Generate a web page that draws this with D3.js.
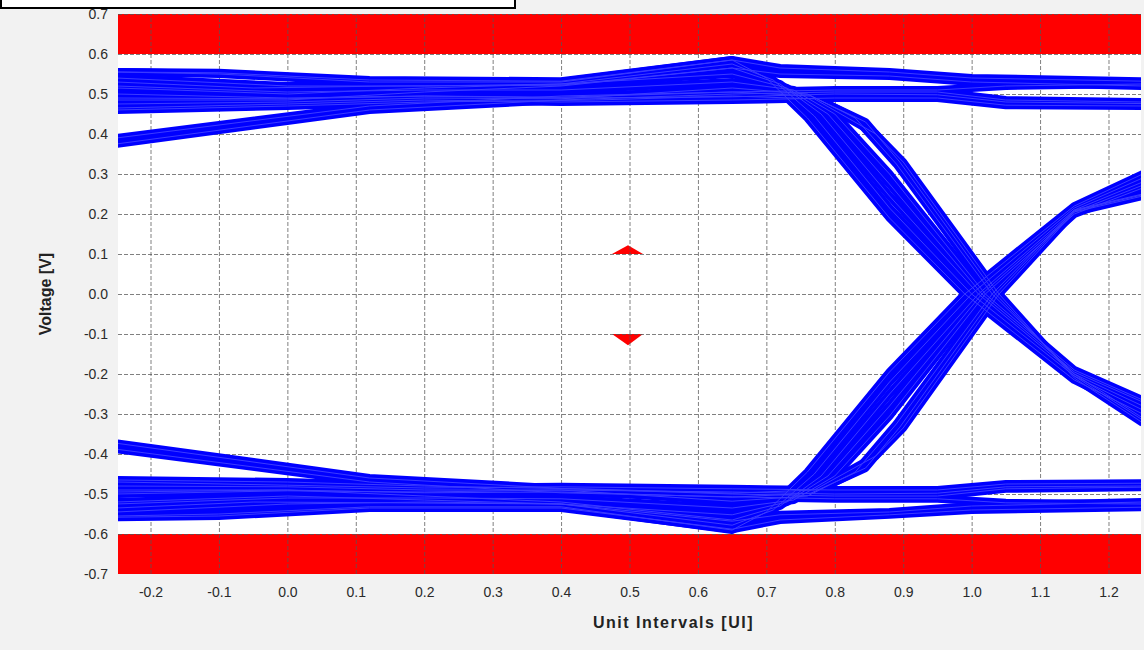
<!DOCTYPE html>
<html>
<head>
<meta charset="utf-8">
<script src="https://cdn.jsdelivr.net/npm/d3@7"></script>
<style>
  body { margin: 0; background: #f2f2f2; }
  svg { display: block; font-family: "Liberation Sans", Arial, sans-serif; }
</style>
</head>
<body>
<svg id="chart" width="1144" height="650"></svg>
<script>
/** Tick values for both axes */
var xTicks = [-0.2, -0.1, 0.0, 0.1, 0.2, 0.3, 0.4, 0.5, 0.6, 0.7, 0.8, 0.9, 1.0, 1.1, 1.2];
var yTicks = [-0.7, -0.6, -0.5, -0.4, -0.3, -0.2, -0.1, 0.0, 0.1, 0.2, 0.3, 0.4, 0.5, 0.6, 0.7];

/** Axis extents (UI and volts) */
var uiDomain = [-0.2475, 1.2475],
    voltDomain = [-0.7, 0.7];

/** Eye mask polygons, [UI, V] */
var maskTop = [[-0.2475, 0.6], [1.2475, 0.6], [1.2475, 0.7], [-0.2475, 0.7]];
var maskBottom = [[-0.2475, -0.6], [1.2475, -0.6], [1.2475, -0.7], [-0.2475, -0.7]];
var maskInnerTop = [[0.4744, 0.1], [0.4978, 0.122], [0.5197, 0.1]];
var maskInnerBottom = [[0.4744, -0.1], [0.4978, -0.128], [0.5197, -0.1]];

/** Traces that stay at the high level, [UI, V] */
var highTraces = [
    [[-0.25,0.555],[-0.1,0.553],[0.12,0.535],[0.4,0.532],[0.65,0.585],[0.72,0.565],[0.88,0.555],[1.0,0.54],[1.25,0.532]],
    [[-0.25,0.53],[-0.05,0.515],[0.15,0.52],[0.4,0.522],[0.65,0.565],[0.72,0.55],[0.88,0.545],[1.0,0.53],[1.25,0.52]],
    [[-0.25,0.50],[0.0,0.49],[0.2,0.495],[0.4,0.49],[0.65,0.493],[0.8,0.5],[0.95,0.498],[1.05,0.48],[1.25,0.476]],
    [[-0.25,0.465],[0.0,0.475],[0.2,0.485],[0.4,0.48],[0.65,0.485],[0.8,0.49],[0.95,0.49],[1.05,0.472],[1.25,0.47]],
    [[-0.25,0.39],[0.12,0.47],[0.4,0.495],[0.65,0.505],[0.8,0.51],[0.95,0.51],[1.05,0.52],[1.25,0.525]],
    [[-0.25,0.375],[0.12,0.46],[0.4,0.485],[0.65,0.5],[0.8,0.505],[0.95,0.505],[1.05,0.485],[1.25,0.48]]
];

/** Traces that stay at the low level */
var lowTraces = [
    [[-0.25,-0.558],[-0.1,-0.555],[0.12,-0.535],[0.4,-0.535],[0.65,-0.588],[0.72,-0.565],[0.88,-0.552],[1.0,-0.54],[1.25,-0.533]],
    [[-0.25,-0.535],[-0.05,-0.52],[0.15,-0.522],[0.4,-0.525],[0.65,-0.568],[0.72,-0.552],[0.88,-0.545],[1.0,-0.53],[1.25,-0.52]],
    [[-0.25,-0.50],[0.0,-0.492],[0.2,-0.495],[0.4,-0.49],[0.65,-0.495],[0.8,-0.5],[0.95,-0.498],[1.05,-0.482],[1.25,-0.48]],
    [[-0.25,-0.47],[0.0,-0.478],[0.2,-0.485],[0.4,-0.482],[0.65,-0.487],[0.8,-0.49],[0.95,-0.49],[1.05,-0.475],[1.25,-0.473]],
    [[-0.25,-0.388],[0.12,-0.47],[0.4,-0.497],[0.65,-0.507],[0.8,-0.512],[0.95,-0.512],[1.05,-0.522],[1.25,-0.525]],
    [[-0.25,-0.373],[0.12,-0.46],[0.4,-0.486],[0.65,-0.5],[0.8,-0.505],[0.95,-0.505],[1.05,-0.487],[1.25,-0.483]]
];

/** High to low transitions */
var fallingTraces = [
    [[-0.25,0.555],[-0.1,0.55],[0.12,0.53],[0.4,0.53],[0.65,0.585],[0.70,0.54],[0.76,0.44],[0.88,0.19],[0.99,0.0],[1.15,-0.215],[1.25,-0.30]],
    [[-0.25,0.515],[0.0,0.5],[0.2,0.515],[0.4,0.525],[0.65,0.575],[0.71,0.535],[0.77,0.445],[0.88,0.215],[1.0,0.0],[1.15,-0.205],[1.25,-0.29]],
    [[-0.25,0.485],[0.0,0.485],[0.2,0.505],[0.4,0.52],[0.65,0.565],[0.72,0.525],[0.78,0.45],[0.88,0.245],[1.01,0.0],[1.15,-0.2],[1.25,-0.28]],
    [[-0.25,0.54],[0.0,0.52],[0.2,0.52],[0.4,0.525],[0.65,0.55],[0.73,0.515],[0.79,0.45],[0.88,0.275],[1.015,0.0],[1.15,-0.195],[1.25,-0.27]],
    [[-0.25,0.52],[0.0,0.505],[0.2,0.51],[0.4,0.51],[0.65,0.53],[0.74,0.51],[0.80,0.45],[0.88,0.30],[1.02,0.0],[1.15,-0.19],[1.25,-0.265]],
    [[-0.25,0.475],[0.0,0.48],[0.2,0.49],[0.4,0.488],[0.65,0.515],[0.76,0.50],[0.83,0.44],[0.89,0.325],[1.03,0.0],[1.15,-0.2],[1.25,-0.31]],
    [[-0.25,0.49],[0.0,0.488],[0.2,0.495],[0.4,0.492],[0.65,0.505],[0.765,0.495],[0.845,0.43],[0.895,0.33],[1.035,0.0],[1.15,-0.205],[1.25,-0.315]],
    [[-0.25,0.46],[0.0,0.47],[0.2,0.48],[0.45,0.485],[0.65,0.495],[0.77,0.488],[0.86,0.40],[0.90,0.33],[1.04,0.0],[1.15,-0.21],[1.25,-0.322]]
];

/** Low to high transitions */
var risingTraces = [
    [[-0.25,-0.555],[-0.1,-0.55],[0.12,-0.532],[0.4,-0.532],[0.65,-0.59],[0.70,-0.545],[0.76,-0.445],[0.88,-0.195],[0.99,0.0],[1.15,0.22],[1.25,0.30]],
    [[-0.25,-0.52],[0.0,-0.505],[0.2,-0.515],[0.4,-0.525],[0.65,-0.578],[0.71,-0.54],[0.77,-0.45],[0.88,-0.22],[1.0,0.0],[1.15,0.215],[1.25,0.29]],
    [[-0.25,-0.49],[0.0,-0.49],[0.2,-0.505],[0.4,-0.52],[0.65,-0.565],[0.72,-0.53],[0.78,-0.455],[0.88,-0.25],[1.01,0.0],[1.15,0.21],[1.25,0.28]],
    [[-0.25,-0.545],[0.0,-0.525],[0.2,-0.52],[0.4,-0.525],[0.65,-0.552],[0.73,-0.52],[0.79,-0.455],[0.88,-0.28],[1.015,0.0],[1.15,0.205],[1.25,0.272]],
    [[-0.25,-0.525],[0.0,-0.51],[0.2,-0.51],[0.4,-0.512],[0.65,-0.535],[0.74,-0.515],[0.80,-0.455],[0.88,-0.305],[1.02,0.0],[1.15,0.2],[1.25,0.265]],
    [[-0.25,-0.48],[0.0,-0.482],[0.2,-0.49],[0.4,-0.49],[0.65,-0.518],[0.76,-0.505],[0.83,-0.445],[0.89,-0.325],[1.03,0.0],[1.15,0.21],[1.25,0.25]],
    [[-0.25,-0.495],[0.0,-0.49],[0.2,-0.497],[0.4,-0.495],[0.65,-0.508],[0.765,-0.498],[0.845,-0.435],[0.895,-0.333],[1.035,0.0],[1.15,0.208],[1.25,0.248]],
    [[-0.25,-0.465],[0.0,-0.47],[0.2,-0.48],[0.45,-0.488],[0.65,-0.498],[0.77,-0.49],[0.86,-0.405],[0.90,-0.335],[1.04,0.0],[1.15,0.205],[1.25,0.245]]
];

/** Plot area in pixels */
var plotLeft = 118, plotRight = 1141, plotTop = 14, plotBottom = 574;

var svg = d3.select('#chart');

// outer background
svg.append('rect')
    .attr('width', 1144).attr('height', 650)
    .attr('fill', '#f2f2f2');

// clipped box at top-left corner
svg.append('rect')
    .attr('x', 1).attr('y', -4)
    .attr('width', 514).attr('height', 12)
    .attr('fill', '#ffffff')
    .attr('stroke', '#000').attr('stroke-width', 2);

var x = d3.scaleLinear().domain(uiDomain).range([plotLeft, plotRight]);
var y = d3.scaleLinear().domain(voltDomain).range([plotBottom, plotTop]);

svg.append('defs').append('clipPath').attr('id', 'plotClip')
    .append('rect')
    .attr('x', plotLeft).attr('y', plotTop)
    .attr('width', plotRight - plotLeft).attr('height', plotBottom - plotTop);

// plot background
svg.append('rect')
    .attr('x', plotLeft).attr('y', plotTop)
    .attr('width', plotRight - plotLeft).attr('height', plotBottom - plotTop)
    .attr('fill', '#ffffff');

var plot = svg.append('g').attr('clip-path', 'url(#plotClip)');

// mask polygons
var polyLine = d3.line()
    .x(function(d) { return x(d[0]); })
    .y(function(d) { return y(d[1]); });

plot.selectAll('path.mask')
    .data([maskTop, maskBottom, maskInnerTop, maskInnerBottom])
    .enter()
    .append('path')
    .attr('class', 'mask')
    .attr('d', function(d) { return polyLine(d) + 'Z'; })
    .attr('fill', '#ff0000');

// grid
var gridX = plot.append('g')
    .attr('transform', 'translate(0,' + plotBottom + ')')
    .call(d3.axisBottom(x).tickValues(xTicks).tickSize(-(plotBottom - plotTop)).tickFormat(''));
var gridY = plot.append('g')
    .attr('transform', 'translate(' + plotLeft + ',0)')
    .call(d3.axisLeft(y).tickValues(yTicks).tickSize(-(plotRight - plotLeft)).tickFormat(''));
[gridX, gridY].forEach(function(g) {
    g.select('.domain').remove();
    g.selectAll('line')
        .attr('stroke', '#555')
        .attr('stroke-opacity', 0.75)
        .attr('stroke-dasharray', '4,2');
});

// eye traces
var allTraces = highTraces.concat(lowTraces, fallingTraces, risingTraces);
plot.selectAll('path.trace')
    .data(allTraces)
    .enter()
    .append('path')
    .attr('class', 'trace')
    .attr('d', polyLine)
    .attr('fill', 'none')
    .attr('stroke', '#0000ff')
    .attr('stroke-width', 8)
    .attr('stroke-linejoin', 'round');

// thin lines to give the bundles some texture
plot.selectAll('path.thin')
    .data(allTraces)
    .enter()
    .append('path')
    .attr('class', 'thin')
    .attr('d', polyLine)
    .attr('fill', 'none')
    .attr('stroke', '#3b3bff')
    .attr('stroke-width', 1);

// tick labels
var fmt = function(d) { return d.toFixed(1); };
var axisX = svg.append('g')
    .attr('transform', 'translate(0,' + plotBottom + ')')
    .call(d3.axisBottom(x).tickValues(xTicks).tickSize(0).tickPadding(13).tickFormat(fmt));
var axisY = svg.append('g')
    .attr('transform', 'translate(' + plotLeft + ',0)')
    .call(d3.axisLeft(y).tickValues(yTicks).tickSize(0).tickPadding(10).tickFormat(fmt));
[axisX, axisY].forEach(function(g) {
    g.select('.domain').remove();
    g.selectAll('text')
        .attr('fill', '#2a2a2a')
        .style('font-size', '14px')
        .style('font-family', '"Liberation Sans", Arial, sans-serif');
});

// axis titles
svg.append('text')
    .attr('x', (plotLeft + plotRight) / 2 + 44)
    .attr('y', 628)
    .attr('text-anchor', 'middle')
    .attr('font-size', 16)
    .attr('font-weight', 'bold')
    .attr('letter-spacing', 1.5)
    .attr('fill', '#222')
    .text('Unit Intervals [UI]');

svg.append('text')
    .attr('transform', 'translate(51,' + ((plotTop + plotBottom) / 2) + ') rotate(-90)')
    .attr('text-anchor', 'middle')
    .attr('font-size', 16)
    .attr('font-weight', 'bold')
    .attr('fill', '#222')
    .text('Voltage [V]');
</script>
</body>
</html>
